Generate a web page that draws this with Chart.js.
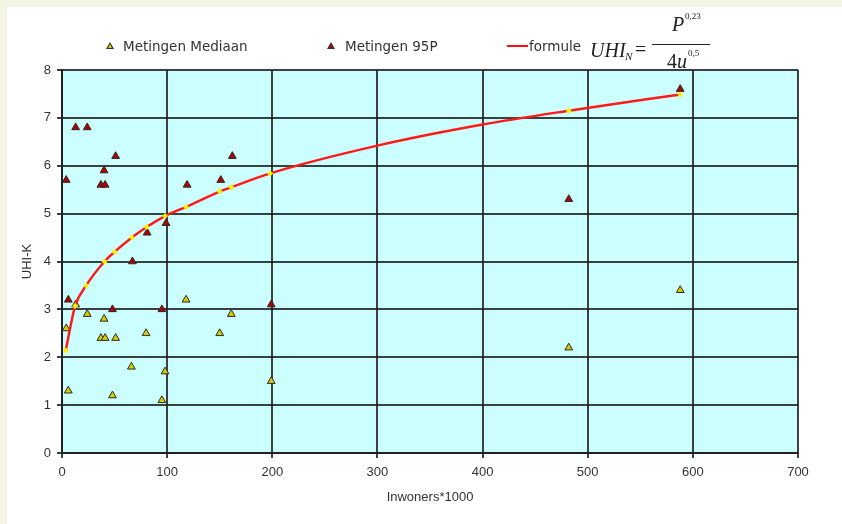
<!DOCTYPE html>
<html>
<head>
<meta charset="utf-8">
<script src="https://cdn.jsdelivr.net/npm/chart.js@4"></script>
<style>
  html, body { margin: 0; padding: 0; width: 842px; height: 524px; overflow: hidden; background: #f5f5e6; }
  #frame { position: absolute; left: 7px; top: 7px; right: 0; bottom: 0; background: #fff; }
  #graph { position: absolute; left: 0; top: 0; z-index: 1; }
  .leg { position: absolute; z-index: 2; font-family: "DejaVu Sans", sans-serif; font-size: 13.5px; color: #333; white-space: nowrap; }
  .tri { position: absolute; z-index: 2; width: 0; height: 0; border-left: 4px solid transparent; border-right: 4px solid transparent; border-bottom: 7px solid #333; }
  .tri span { position: absolute; left: -2px; top: 2px; width: 0; height: 0; border-left: 2.5px solid transparent; border-right: 2.5px solid transparent; border-bottom: 4px solid; }
  .math { position: absolute; z-index: 2; font-family: "Liberation Serif", "DejaVu Serif", serif; font-style: italic; font-size: 20px; line-height: 1; color: #222; white-space: nowrap; }
  .small { position: absolute; z-index: 2; font-family: "Liberation Serif", "DejaVu Serif", serif; font-size: 9px; line-height: 1; color: #222; white-space: nowrap; }
</style>
</head>
<body>
<div id="frame"></div>
<canvas id="graph" width="842" height="524"></canvas>

<!-- legend, drawn in html so the formula can be set like the original -->
<div class="tri" style="left:106px; top:42px;"><span style="border-bottom-color:#d8cc00;"></span></div>
<div class="leg" style="left:123px; top:38px;">Metingen Mediaan</div>
<div class="tri" style="left:327px; top:42px;"><span style="border-bottom-color:#b00000;"></span></div>
<div class="leg" style="left:345px; top:38px;">Metingen 95P</div>
<div style="position:absolute; z-index:2; left:507px; top:45px; width:21px; height:2px; background:#ff1010;"></div>
<div class="leg" style="left:529px; top:38px;">formule</div>
<div class="math" style="left:590px; top:40px;">UHI</div>
<div class="math" style="left:625px; top:51px; font-size:11px;">N</div>
<div class="math" style="left:635px; top:39px; font-style:normal;">=</div>
<div class="math" style="left:672px; top:14px;">P</div>
<div class="small" style="left:685px; top:12px;">0,23</div>
<div style="position:absolute; z-index:2; left:652px; top:44px; width:58px; height:1px; background:#222;"></div>
<div class="math" style="left:667px; top:51px;"><span style="font-style:normal;">4</span>u</div>
<div class="small" style="left:688px; top:49px;">0,5</div>

<script>
// metingen (inwoners * 1000, UHI in K)
const inwonersMediaan = [4, 6, 13, 24, 37, 40, 41, 48, 51, 66, 80, 95, 98, 118, 150, 161, 199, 482, 588];
const uhiMediaan = [2.6, 1.3, 3.1, 2.9, 2.4, 2.8, 2.4, 1.2, 2.4, 1.8, 2.5, 1.1, 1.7, 3.2, 2.5, 2.9, 1.5, 2.2, 3.4];

const inwoners95 = [4, 6, 13, 24, 37, 40, 41, 48, 51, 67, 81, 95, 99, 119, 151, 162, 199, 482, 588];
const uhi95 = [5.7, 3.2, 6.8, 6.8, 5.6, 5.9, 5.6, 3.0, 6.2, 4.0, 4.6, 3.0, 4.8, 5.6, 5.7, 6.2, 3.1, 5.3, 7.6];

// formule curve
const formuleX = [3.5, 12.5, 23, 40.5, 50, 66.5, 80.5, 98, 118, 150, 161, 198, 300, 400, 482, 588];
const formuleY = [2.14, 3.07, 3.5, 4.0, 4.2, 4.5, 4.72, 4.95, 5.14, 5.46, 5.55, 5.84, 6.42, 6.86, 7.15, 7.49];
const formuleMarker = [1, 1, 1, 1, 1, 1, 1, 1, 1, 1, 1, 1, 0, 0, 1, 1];

const xTicks = [0, 100, 200, 300, 400, 500, 600, 700];
const yTicks = [0, 1, 2, 3, 4, 5, 6, 7, 8];

function toPoints(xs, ys) {
    return xs.map((x, i) => ({ x: x, y: ys[i] }));
}

// light blue plot background
const plotBackground = {
    id: 'plotBackground',
    beforeDraw(chart) {
        const a = chart.chartArea;
        chart.ctx.save();
        chart.ctx.fillStyle = '#ccffff';
        chart.ctx.fillRect(a.left, a.top, a.right - a.left, a.bottom - a.top);
        chart.ctx.restore();
    }
};

const tickFont = { family: '"Liberation Sans", Arial, sans-serif', size: 13 };

const ctx = document.getElementById('graph').getContext('2d');
const chart = new Chart(ctx, {
    type: 'scatter',
    data: {
        datasets: [
            {
                type: 'line',
                label: 'formule',
                data: toPoints(formuleX, formuleY),
                borderColor: '#ff1a1a',
                borderWidth: 2.5,
                cubicInterpolationMode: 'monotone',
                pointRadius: formuleMarker.map(m => m ? 3 : 0),
                pointStyle: 'rectRot',
                pointBackgroundColor: '#ffee00',
                pointBorderWidth: 0,
                order: 0
            },
            {
                label: 'Metingen 95P',
                data: toPoints(inwoners95, uhi95),
                pointStyle: 'triangle',
                pointRadius: 4.5,
                backgroundColor: '#b00000',
                borderColor: '#2a2a2a',
                borderWidth: 1,
                order: 1
            },
            {
                label: 'Metingen Mediaan',
                data: toPoints(inwonersMediaan, uhiMediaan),
                pointStyle: 'triangle',
                pointRadius: 4.5,
                backgroundColor: '#d8cc00',
                borderColor: '#2a2a2a',
                borderWidth: 1,
                order: 2
            }
        ]
    },
    options: {
        responsive: false,
        animation: false,
        layout: { padding: { top: 70, right: 44, left: 0, bottom: 0 } },
        plugins: {
            legend: { display: false },
            tooltip: { enabled: false }
        },
        scales: {
            x: {
                type: 'linear',
                min: 0,
                max: 700,
                afterFit: s => { s.height = 71; },
                afterBuildTicks: s => { s.ticks = xTicks.map(v => ({ value: v })); },
                grid: { color: 'rgba(30,30,30,0.85)', lineWidth: 2, tickLength: 5 },
                border: { color: '#222', width: 2 },
                ticks: { font: tickFont, color: '#333', padding: 7, maxRotation: 0 },
                title: { display: true, text: 'Inwoners*1000', font: tickFont, color: '#333', padding: { top: 0, bottom: 19 } }
            },
            y: {
                min: 0,
                max: 8,
                afterFit: s => { s.width = 62; },
                afterBuildTicks: s => { s.ticks = yTicks.map(v => ({ value: v })); },
                grid: { color: 'rgba(30,30,30,0.85)', lineWidth: 2, tickLength: 5 },
                border: { color: '#222', width: 2 },
                ticks: { font: tickFont, color: '#333', padding: 6 },
                title: { display: true, text: 'UHI-K', font: tickFont, color: '#333', padding: { top: 20, bottom: 0 } }
            }
        }
    },
    plugins: [plotBackground]
});
</script>
</body>
</html>
